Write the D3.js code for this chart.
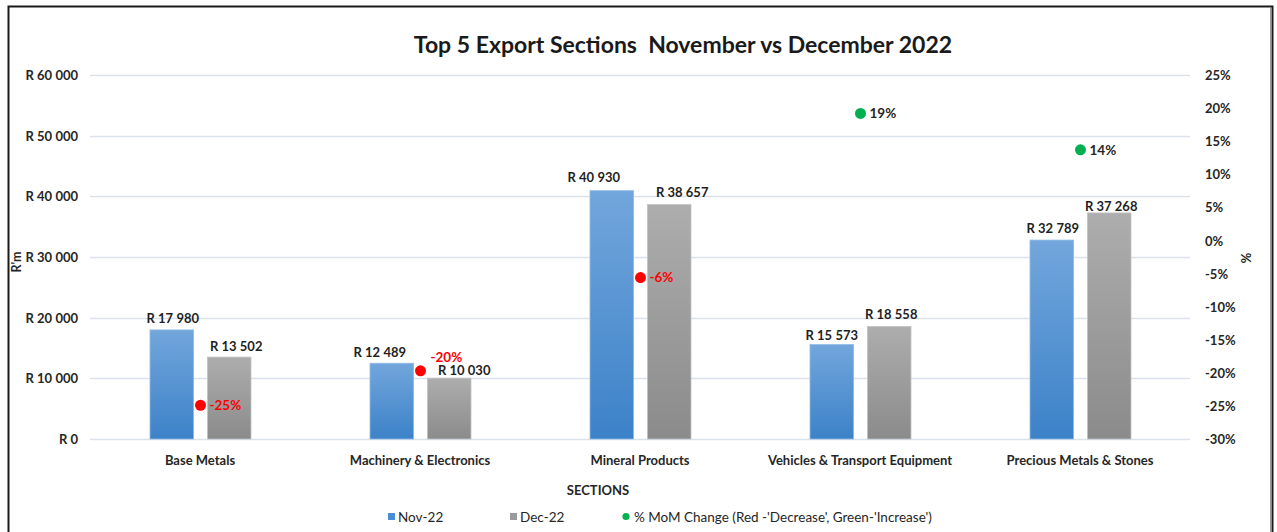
<!DOCTYPE html>
<html><head><meta charset="utf-8">
<script src="https://cdn.jsdelivr.net/npm/d3@7"></script>
<style>
html,body{margin:0;padding:0;background:#fff;}
svg{display:block;font-family:Lato,"Open Sans","DejaVu Sans Condensed",sans-serif;}
text{white-space:pre;}
</style></head>
<body>
<svg id="chart" width="1277" height="532"></svg>
<script>
// ---- data ----
const categories = ["Base Metals","Machinery & Electronics","Mineral Products","Vehicles & Transport Equipment","Precious Metals & Stones"];
const seriesNames = ["Nov-22","Dec-22"];
const nov22 = [17980, 12489, 40930, 15573, 32789];
const dec22 = [13502, 10030, 38657, 18558, 37268];
const momChange = [-24.9, -19.7, -5.6, 19.2, 13.7];
const leftTicks = [0, 10000, 20000, 30000, 40000, 50000, 60000];
const rightTicks = [25, 20, 15, 10, 5, 0, -5, -10, -15, -20, -25, -30];
const titleText = "Top 5 Export Sections  November vs December 2022";
const legendMomText = "% MoM Change (Red -'Decrease', Green-'Increase')";

// label nudges (layout only)
const novLabelNudge = [[1,0],[-12,1],[-18,-2],[0,2],[1,0]];
const decLabelNudge = [[7,1],[15,4],[13,0],[2,0],[2,5]];

const svg = d3.select("#chart");
const W = 1277, H = 532;
const plotL = 90, plotR = 1190, plotT = 75, plotB = 439;

const nbsp = "\u202F";
const fmtR = v => "R " + d3.format(",")(v).replace(/,/g, nbsp);
const pctLocale = d3.formatLocale({decimal:".", thousands:",", grouping:[3], currency:["",""], minus:"-"});
const fmtPct = pctLocale.format(".0%");

// gradients
const defs = svg.append("defs");
const gB = defs.append("linearGradient").attr("id","gBlue").attr("x1",0).attr("y1",0).attr("x2",0).attr("y2",1);
gB.append("stop").attr("offset","0%").attr("stop-color","#72a6dc");
gB.append("stop").attr("offset","100%").attr("stop-color","#3c82c8");
const gG = defs.append("linearGradient").attr("id","gGray").attr("x1",0).attr("y1",0).attr("x2",0).attr("y2",1);
gG.append("stop").attr("offset","0%").attr("stop-color","#adadad");
gG.append("stop").attr("offset","100%").attr("stop-color","#8b8b8b");

// frame
svg.append("rect").attr("x",0).attr("y",0).attr("width",W).attr("height",H).attr("fill","#fff");
svg.append("path").attr("d",`M8.5,${H} V6.5 H1272.5 V${H}`).attr("fill","none").attr("stroke","#1a1a1a").attr("stroke-width",2);
svg.append("line").attr("x1",1270.5).attr("x2",1270.5).attr("y1",8).attr("y2",H).attr("stroke","#9a9a9a").attr("stroke-width",1);

// scales
const x0 = d3.scaleBand().domain(categories).range([plotL, plotR]).paddingInner(0).paddingOuter(0);
const x1 = d3.scaleBand().domain(seriesNames).range([60, 161]).paddingInner(0.24).paddingOuter(0);
const y = d3.scaleLinear().domain([0, 60000]).range([plotB, plotT]);
const y2 = d3.scaleLinear().domain([-30, 25]).range([plotB, plotT]);

// gridlines
svg.append("g").selectAll("line").data(leftTicks).join("line")
  .attr("x1", plotL).attr("x2", plotR)
  .attr("y1", d => Math.round(y(d)) + 0.5).attr("y2", d => Math.round(y(d)) + 0.5)
  .attr("stroke", "#d9e2ec").attr("stroke-width", 1.5);

// left axis
const yAxis = d3.axisLeft(y).tickValues(leftTicks).tickSize(0).tickPadding(0).tickFormat(fmtR);
const gy = svg.append("g").attr("transform", "translate(78,0)").call(yAxis);
gy.select(".domain").remove();
gy.attr("font-family", null);
gy.selectAll("text").attr("font-size", 13).attr("font-weight", "bold").attr("fill", "#262626").attr("dy","0.35em");

// right axis
const y2Axis = d3.axisRight(y2).tickValues(rightTicks).tickSize(0).tickPadding(0).tickFormat(d => d + "%");
const gy2 = svg.append("g").attr("transform", "translate(1205,0)").call(y2Axis);
gy2.select(".domain").remove();
gy2.attr("font-family", null);
gy2.selectAll("text").attr("font-size", 13).attr("font-weight", "bold").attr("fill", "#262626").attr("dy","0.35em");

// bars
const rows = categories.map((c, i) => ({cat: c, i, vals: [
  {s: "Nov-22", v: nov22[i], fill: "url(#gBlue)", stroke: "#8fbbe6", nudge: novLabelNudge[i]},
  {s: "Dec-22", v: dec22[i], fill: "url(#gGray)", stroke: "#c4c4c4", nudge: decLabelNudge[i]}
]}));
const grp = svg.append("g").selectAll("g").data(rows).join("g")
  .attr("transform", d => `translate(${x0(d.cat)},0)`);
grp.selectAll("rect").data(d => d.vals).join("rect")
  .attr("x", d => x1(d.s)).attr("width", x1.bandwidth())
  .attr("y", d => y(d.v)).attr("height", d => y(0) - y(d.v))
  .attr("fill", d => d.fill).attr("stroke", d => d.stroke).attr("stroke-width", 0.8);
grp.selectAll("text").data(d => d.vals).join("text")
  .attr("x", d => x1(d.s) + x1.bandwidth() / 2 + d.nudge[0])
  .attr("y", d => y(d.v) - 7 + d.nudge[1])
  .attr("text-anchor", "middle").attr("font-size", 13).attr("font-weight", "bold").attr("fill", "#1f1f1f")
  .text(d => fmtR(d.v));

// MoM dots
const cx = c => x0(c) + 110.5;
const dots = svg.append("g").selectAll("g").data(categories.map((c, i) => ({c, i, v: momChange[i]}))).join("g");
dots.append("circle").attr("cx", d => cx(d.c)).attr("cy", d => y2(d.v)).attr("r", 5.5)
  .attr("fill", d => d.v < 0 ? "#ff0000" : "#00b050");
dots.append("text")
  .attr("x", d => d.i === 1 ? cx(d.c) + 10 : cx(d.c) + 9)
  .attr("y", d => d.i === 1 ? y2(d.v) - 14 : y2(d.v))
  .attr("dy", "0.35em")
  .attr("font-size", 13.5).attr("font-weight", "bold")
  .attr("fill", d => d.v < 0 ? "#ff0000" : "#262626")
  .text(d => fmtPct(d.v / 100));

// category labels
const xAxis = d3.axisBottom(x0).tickSize(0).tickPadding(0);
const gx = svg.append("g").attr("transform", `translate(0,${plotB + 21})`).call(xAxis);
gx.select(".domain").remove();
gx.attr("font-family", null);
gx.selectAll("text").attr("font-size", 13).attr("font-weight", "bold").attr("fill", "#262626").attr("dy","0.35em").attr("y",0);

// title
svg.append("text").attr("x", 683).attr("y", 45).attr("dy","0.35em").attr("text-anchor", "middle")
  .attr("font-size", 23).attr("font-weight", "bold").attr("fill", "#1a1a1a").text(titleText);

// axis titles
svg.append("text").attr("transform", "translate(17,262) rotate(-90)").attr("text-anchor", "middle").attr("dy","0.35em")
  .attr("font-size", 12.5).attr("font-weight", "bold").attr("fill", "#262626").text("R'm");
svg.append("text").attr("transform", "translate(1246,258) rotate(90)").attr("text-anchor", "middle").attr("dy","0.35em")
  .attr("font-size", 13).attr("font-weight", "bold").attr("fill", "#262626").text("%");
svg.append("text").attr("x", 598).attr("y", 490).attr("dy","0.35em").attr("text-anchor", "middle")
  .attr("font-size", 13).attr("font-weight", "bold").attr("fill", "#262626").text("SECTIONS");

// legend
const lg = svg.append("g").attr("font-size", 13.5).attr("fill", "#262626");
lg.append("rect").attr("x", 388).attr("y", 513).attr("width", 7).attr("height", 7).attr("fill", "#4a8ed6");
lg.append("text").attr("x", 398).attr("y", 517).attr("dy","0.35em").text(seriesNames[0]);
lg.append("rect").attr("x", 510).attr("y", 513).attr("width", 7).attr("height", 7).attr("fill", "#9b9b9b");
lg.append("text").attr("x", 520).attr("y", 517).attr("dy","0.35em").text(seriesNames[1]);
lg.append("circle").attr("cx", 626).attr("cy", 516.5).attr("r", 3.6).attr("fill", "#00b050");
lg.append("text").attr("x", 634).attr("y", 517).attr("dy","0.35em").text(legendMomText);
</script>
</body></html>
